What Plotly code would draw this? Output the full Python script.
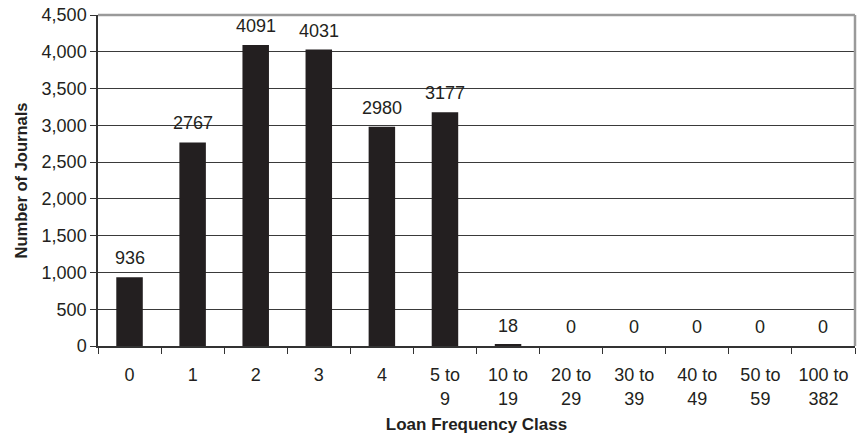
import plotly.graph_objects as go

# Loan frequency classes and the number of journals in each
classes = ["0", "1", "2", "3", "4", "5 to<br>9", "10 to<br>19", "20 to<br>29",
           "30 to<br>39", "40 to<br>49", "50 to<br>59", "100 to<br>382"]
journals = [936, 2767, 4091, 4031, 2980, 3177, 18, 0, 0, 0, 0, 0]

y_ticks = list(range(0, 4501, 500))

ink = "#231f20"
font = "Liberation Sans, Arial, Helvetica, sans-serif"
size = 18

fig = go.Figure(
    go.Bar(
        x=classes,
        y=journals,
        marker=dict(color=ink, line=dict(width=0)),
        width=0.42,
        hoverinfo="x+y",
    )
)

# Value labels above each bar
for c, v in zip(classes, journals):
    fig.add_annotation(
        x=c, y=v, text=str(v), showarrow=False,
        xanchor="center", yanchor="bottom", yshift=7,
        font=dict(size=size, color=ink, family=font),
    )

fig.update_layout(
    width=859,
    height=437,
    margin=dict(l=98, r=4, t=15, b=91),
    paper_bgcolor="white",
    plot_bgcolor="white",
    showlegend=False,
    font=dict(family=font, size=size, color=ink),
)

fig.update_xaxes(
    type="category",
    tickson="boundaries",
    ticks="outside",
    ticklen=6,
    tickwidth=1,
    tickcolor="#333333",
    showline=True,
    linecolor="#333333",
    linewidth=1.5,
    showgrid=False,
    ticklabelstandoff=12,
    tickfont=dict(size=size, color=ink),
    title=dict(text="<b>Loan Frequency Class</b>", font=dict(size=17, color=ink), standoff=10),
)

fig.update_yaxes(
    range=[0, 4500],
    tickvals=y_ticks,
    tickformat=",",
    ticks="outside",
    ticklen=6,
    tickwidth=1,
    tickcolor="#333333",
    showline=True,
    linecolor="#333333",
    linewidth=1.5,
    showgrid=True,
    gridcolor="#3a3a3a",
    gridwidth=1,
    zeroline=False,
    tickfont=dict(size=size, color=ink),
    title=dict(text="<b>Number of Journals</b>", font=dict(size=16.5, color=ink), standoff=10),
)

# Light frame along the top and right edges of the plot area
fig.add_shape(type="line", xref="paper", yref="paper", x0=0, x1=1, y0=1, y1=1,
              line=dict(color="#9a9a9a", width=2.5))
fig.add_shape(type="line", xref="paper", yref="paper", x0=1, x1=1, y0=0, y1=1,
              line=dict(color="#9a9a9a", width=2.5))

fig.write_html("out.html")
